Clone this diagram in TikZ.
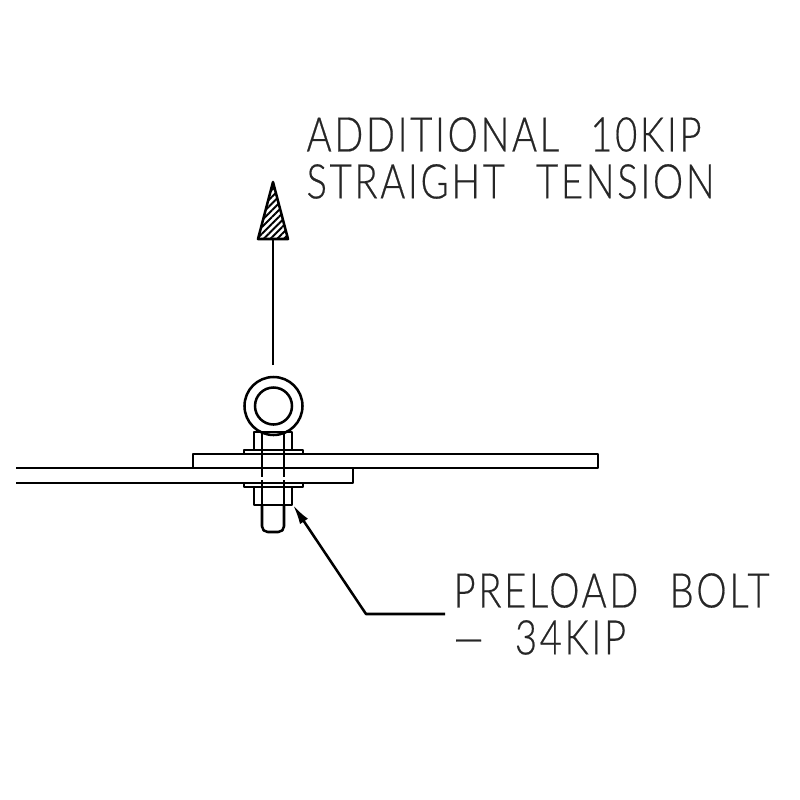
\documentclass[tikz,border=0pt]{standalone}
\usepackage{fontspec}
\setmainfont{Lato Light}[FakeStretch=0.8,LetterSpace=5.5,WordSpace=2.4,FakeBold=0.4]
\usepackage{tikz}
\usetikzlibrary{arrows.meta, patterns.meta, positioning}
\tikzset{
  part/.style={line width=0.9pt, line join=round},
  hidden/.style={line width=0.9pt, dash pattern=on 16pt off 1.2pt},
  callout/.style={font=\fontsize{17}{16.7}\selectfont, align=left, inner sep=0pt, anchor=west, text=black!85},
}
\begin{document}
\begin{tikzpicture}[x=0.125mm,y=-0.125mm]
\useasboundingbox (0,0) rectangle (800,800);
% labels
\node[callout] (tensionlabel) at (306,158) {ADDITIONAL 10KIP\\STRAIGHT TENSION};
\node[callout] (boltlabel) at (453,614) {PRELOAD BOLT\\--- 34KIP};
% plates
\draw[part] (16,468) -- (193,468) -- (193,454) -- (598,454) -- (598,468) -- (16,468);
\draw[part] (16,483) -- (353,483) -- (353,468);
% washers and nut
\draw[part] (244,450) rectangle (303,454);
\draw[part] (244,483) rectangle (303,487);
\draw[part] (254,450) -- (254,432) -- (292,432) -- (292,450);
\draw[part] (254,487) -- (254,505) -- (292,505) -- (292,487);
% eye
\draw[part] (273.5,406) circle (29);
\draw[part] (273.5,406) circle (18.5);
% shank
\draw[hidden] (262,432) -- (262,505);
\draw[hidden] (284,432) -- (284,505);
\draw[part, rounded corners=2pt] (262,505) -- (262,532) -- (284,532) -- (284,505);
% load arrow
\coordinate (loadstart) at (273,365);
\coordinate (loadbase) at (273,240);
\draw[part] (loadstart) -- (loadbase);
\draw[part, pattern={Lines[angle=45,distance=1.7pt,line width=0.7pt]}] (258,239) -- (273,182) -- (288,239) -- cycle;
% leader
\coordinate (nutcorner) at (293,505);
\coordinate (leaderbend) at (366,614);
\draw[part, -{Latex[length=7pt,width=3.4pt]}] (boltlabel.west) ++(-8,0) -- (leaderbend) -- (nutcorner);
\end{tikzpicture}
\end{document}
